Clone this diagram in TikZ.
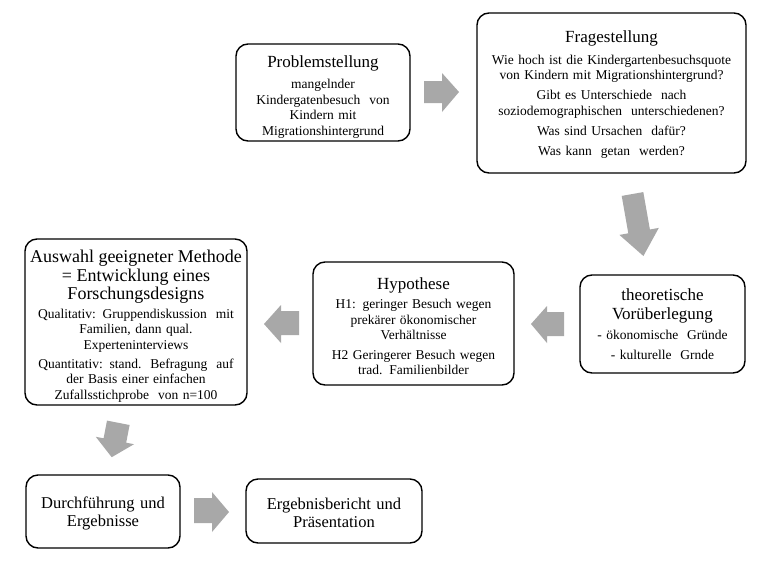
\documentclass[tikz,border=0pt]{standalone}
\usepackage{fontspec}
\setmainfont{Liberation Serif}
\definecolor{arrowgray}{RGB}{168,168,168}
\newcommand{\titlefont}{\fontsize{17}{19}\selectfont}
\newcommand{\bodyfont}{\fontsize{13.5}{15.5}\selectfont}
\tikzset{
  stagebox/.style={draw=black, line width=1.4pt, rounded corners=12pt, fill=white,
    inner sep=0pt},
  stagetext/.style={align=center, inner sep=0pt, font=\bodyfont},
  blockarrow/.style={fill=arrowgray, draw=none}
}
\begin{document}
\begin{tikzpicture}[x=1pt,y=-1pt]
\useasboundingbox[fill=white] (0,0) rectangle (780,574);

% boxes
\node[stagebox, minimum width=174pt, minimum height=97pt] (prob) at (323,92.5) {};
\node[stagetext, text width=170pt, yshift=-4.5pt] (probtext) at (prob.center)
 {{\titlefont Problemstellung\par}\vspace{6pt}
  mangelnder\\ Kindergatenbesuch\ \ von\\ Kindern mit\\ Migrationshintergrund\par};

\node[stagebox, minimum width=269pt, minimum height=160pt] (frage) at (611.5,93) {};
\node[stagetext, text width=265pt, yshift=-1.5pt] (fragetext) at (frage.center)
 {{\titlefont Fragestellung\par}\vspace{6pt}
  Wie hoch ist die Kindergartenbesuchsquote\\ von Kindern mit Migrationshintergrund?\par\vspace{4.5pt}
  Gibt es Unterschiede\ \ nach\\ soziodemographischen\ \ unterschiedenen?\par\vspace{4.5pt}
  Was sind Ursachen\ \ dafür?\par\vspace{4.5pt}
  Was kann\ \ getan\ \ werden?\par};

\node[stagebox, minimum width=165pt, minimum height=98pt] (theor) at (662.5,324) {};
\node[stagetext, text width=161pt] (theortext) at (theor.center)
 {{\titlefont theoretische\\ Vorüberlegung\par}\vspace{5pt}
  - ökonomische\ \ Gründe\par\vspace{4pt}
  - kulturelle\ \ Grnde\par};

\node[stagebox, minimum width=201pt, minimum height=123pt] (hyp) at (413.5,323.5) {};
\node[stagetext, text width=197pt, yshift=-2.5pt] (hyptext) at (hyp.center)
 {{\titlefont Hypothese\par}\vspace{4pt}
  H1: geringer Besuch wegen\\ prekärer ökonomischer\\ Verhältnisse\par\vspace{4pt}
  H2 Geringerer Besuch wegen\\ trad. Familienbilder\par};

\node[stagebox, minimum width=222pt, minimum height=166pt] (ausw) at (136,322) {};
\node[stagetext, text width=218pt, yshift=-4pt] (auswtext) at (ausw.center)
 {{\fontsize{18}{18.5}\selectfont Auswahl geeigneter Methode\\ = Entwicklung eines\\ Forschungsdesigns\par}\vspace{3pt}
  Qualitativ: Gruppendiskussion\ \ mit\\ Familien, dann qual.\\ Experteninterviews\par\vspace{3.5pt}
  Quantitativ: stand.\ \ Befragung\ \ auf\\ der Basis einer einfachen\\ Zufallsstichprobe\ \ von n=100\par};

\node[stagebox, minimum width=154pt, minimum height=73pt] (durch) at (103,511.5) {};
\node[stagetext, text width=150pt, yshift=-2pt, font=\fontsize{16.5}{18}\selectfont] (durchtext) at (durch.center)
 {Durchführung und\\ Ergebnisse};

\node[stagebox, minimum width=176pt, minimum height=64pt] (ergeb) at (334,511) {};
\node[stagetext, text width=172pt, yshift=-1.5pt, font=\fontsize{16.5}{18}\selectfont] (ergebtext) at (ergeb.center)
 {Ergebnisbericht und\\ Präsentation};

% block arrows
% Problemstellung -> Fragestellung
\fill[blockarrow] (424,81) -- (442,81) -- (442,73) -- (459,92) -- (442,112) -- (442,103) -- (424,103) -- cycle;
% Fragestellung -> theoretische Vorueberlegung
\fill[blockarrow] (621.7,195.9) -- (643.3,192.1) -- (649.9,229.5) -- (658.8,227.9) -- (643.4,256.0) -- (619.4,234.9) -- (628.3,233.3) -- cycle;
% theoretische Vorueberlegung -> Hypothese
\fill[blockarrow] (564,312) -- (547,312) -- (547,306) -- (531,324) -- (547,343) -- (547,336) -- (564,336) -- cycle;
% Hypothese -> Auswahl
\fill[blockarrow] (299,311) -- (281,311) -- (281,305) -- (264,324) -- (281,343) -- (281,335) -- (299,335) -- cycle;
% Auswahl -> Durchfuehrung
\fill[blockarrow] (107.0,420.6) -- (129.6,425.0) -- (126.2,442.7) -- (134.0,444.2) -- (111.7,457.2) -- (95.8,436.8) -- (103.6,438.3) -- cycle;
% Durchfuehrung -> Ergebnisbericht
\fill[blockarrow] (194,498) -- (212,498) -- (212,492) -- (229,512) -- (212,532) -- (212,523) -- (194,523) -- cycle;
\end{tikzpicture}
\end{document}
